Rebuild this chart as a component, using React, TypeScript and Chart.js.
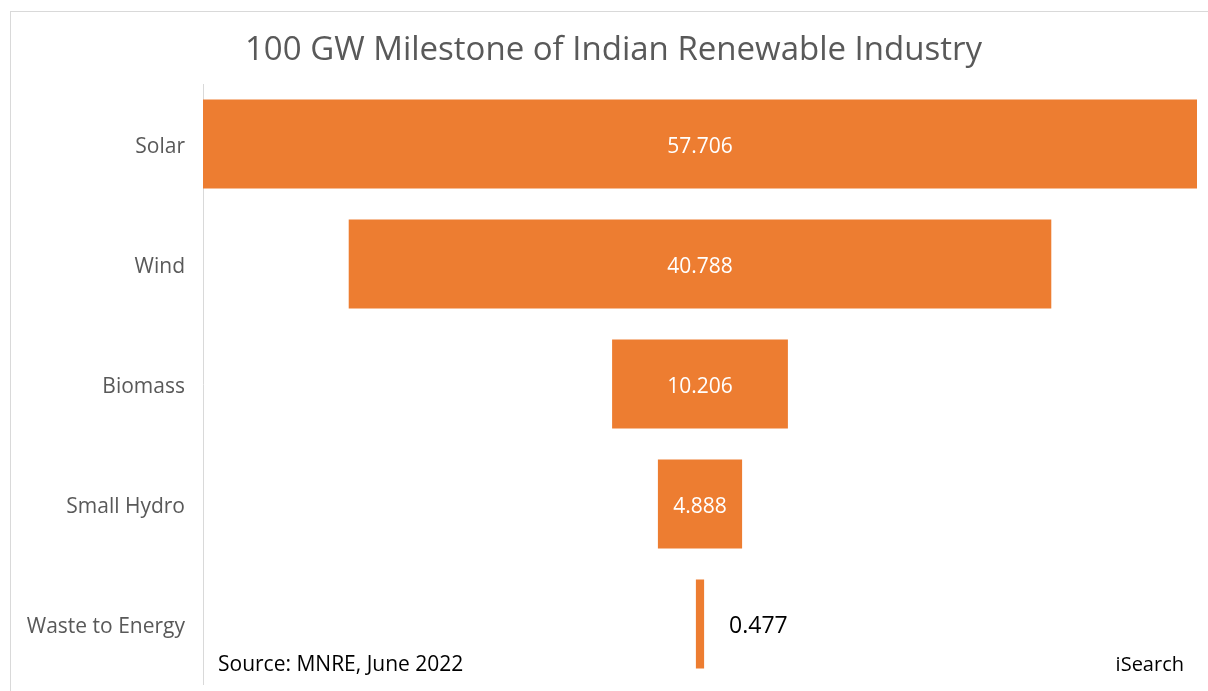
import React, { useEffect, useRef } from "react";
import { Chart, registerables } from "chart.js";

Chart.register(...registerables);

const categories = ["Solar", "Wind", "Biomass", "Small Hydro", "Waste to Energy"];
const capacityGW = [57.706, 40.788, 10.206, 4.888, 0.477];
const titleText = "100 GW Milestone of Indian Renewable Industry";
const sourceText = "Source: MNRE, June 2022";
const brandText = "iSearch";

const FONT = "'Open Sans', 'Noto Sans', sans-serif";

export default function App() {
  const ref = useRef<HTMLCanvasElement | null>(null);

  useEffect(() => {
    if (!ref.current) return;
    const maxV = Math.max(...capacityGW);

    const labelPlugin = {
      id: "funnelLabels",
      afterDatasetsDraw(chart: any) {
        const ctx = chart.ctx;
        const meta = chart.getDatasetMeta(0);
        const yScale = chart.scales.y;
        ctx.save();
        ctx.textBaseline = "middle";
        // category labels
        ctx.font = `21px ${FONT}`;
        ctx.fillStyle = "#595959";
        ctx.textAlign = "right";
        categories.forEach((c, i) => {
          ctx.fillText(c, yScale.right - 18, yScale.getPixelForTick(i) + 3);
        });
        // value labels
        meta.data.forEach((bar: any, i: number) => {
          const v = capacityGW[i];
          const left = Math.min(bar.x, bar.base);
          const right = Math.max(bar.x, bar.base);
          const w = right - left;
          const txt = v.toFixed(3);
          if (w > 70) {
            ctx.font = `21px ${FONT}`;
            ctx.fillStyle = "#ffffff";
            ctx.textAlign = "center";
            ctx.fillText(txt, (left + right) / 2, bar.y + 3);
          } else {
            ctx.font = `23px ${FONT}`;
            ctx.fillStyle = "#000000";
            ctx.textAlign = "left";
            ctx.fillText(txt, right + 25, bar.y + 2);
          }
        });
        // title
        ctx.fillStyle = "#595959";
        ctx.font = `33px ${FONT}`;
        ctx.textAlign = "center";
        ctx.fillText(titleText, 613.5, 51);
        // footer texts
        ctx.fillStyle = "#000000";
        ctx.font = `21px ${FONT}`;
        ctx.textAlign = "left";
        ctx.fillText(sourceText, 218, 665);
        ctx.font = `20px ${FONT}`;
        ctx.textAlign = "right";
        ctx.fillText(brandText, 1184, 665);
        ctx.restore();
      },
    };

    const chart = new Chart(ref.current, {
      type: "bar",
      data: {
        labels: categories,
        datasets: [
          {
            data: capacityGW.map((v) => [-v / 2, v / 2]) as any,
            backgroundColor: "#ED7D31",
            borderWidth: 0,
            categoryPercentage: 1,
            barPercentage: 0.74,
          },
        ],
      },
      options: {
        indexAxis: "y",
        animation: false,
        responsive: false,
        maintainAspectRatio: false,
        layout: { padding: { left: 0, right: 11, top: 84, bottom: 7 } },
        plugins: {
          legend: { display: false },
          tooltip: { enabled: false },
          title: { display: false },
        },
        scales: {
          x: {
            display: false,
            min: -maxV / 2,
            max: maxV / 2,
          },
          y: {
            grid: { display: false, drawTicks: false },
            border: { display: true, color: "#d9d9d9", width: 1 },
            ticks: { display: false },
            afterFit(scale: any) {
              scale.width = 203;
              scale.paddingTop = 0;
              scale.paddingBottom = 0;
            },
          },
        },
      },
      plugins: [labelPlugin],
    });
    return () => chart.destroy();
  }, []);

  return (
    <div
      style={{
        position: "fixed",
        left: 0,
        top: 0,
        width: 1208,
        height: 691,
        background: "#ffffff",
        overflow: "hidden",
      }}
    >
      <div
        style={{
          position: "absolute",
          left: 10,
          top: 11,
          width: 1208,
          height: 700,
          border: "1px solid #d9d9d9",
          boxSizing: "border-box",
        }}
      />
      <canvas
        ref={ref}
        width={1208}
        height={691}
        style={{ position: "absolute", left: 0, top: 0, width: 1208, height: 691 }}
      />
    </div>
  );
}
